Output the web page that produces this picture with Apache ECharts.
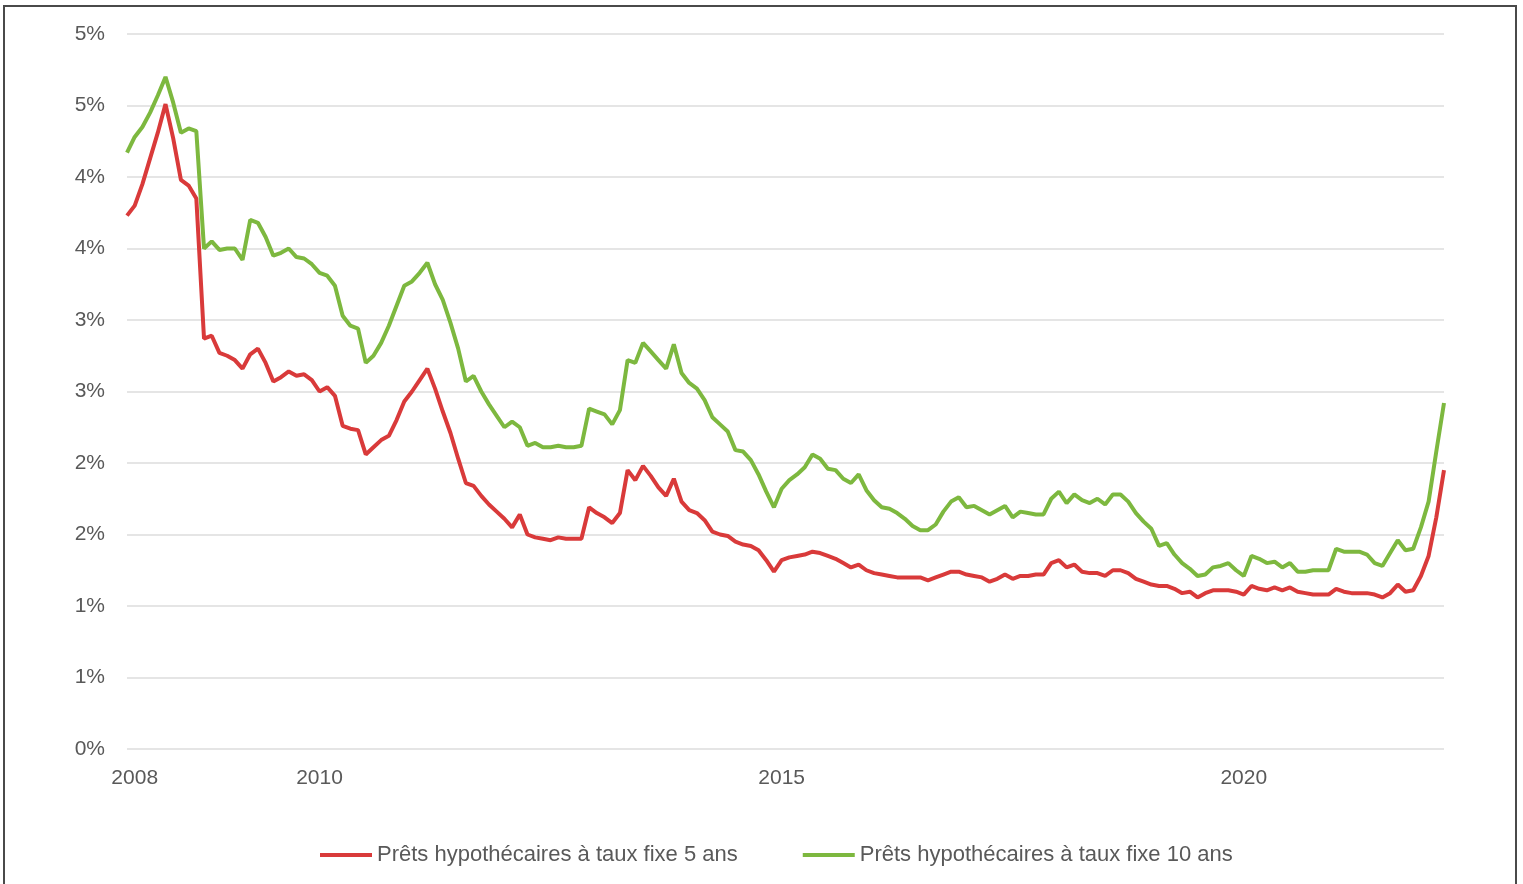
<!DOCTYPE html>
<html>
<head>
<meta charset="utf-8">
<title>Prêts hypothécaires</title>
<script src="https://cdn.jsdelivr.net/npm/echarts@6/dist/echarts.min.js"></script>
<style>
  html, body { margin: 0; padding: 0; background: #fff; }
  #main { width: 1523px; height: 884px; }
  #frame {
    position: absolute; left: 3px; top: 5px; width: 1510px; height: 900px;
    border: 2px solid #4a4a4a; border-bottom: none; pointer-events: none;
  }
</style>
</head>
<body>
<div id="main"></div>
<div id="frame"></div>
<script>
// monthly, Dec 2007 .. Mar 2022
var startYear = 2007, startMonth = 12, nbMonths = 172;
var yearLabels = ['2008', '2010', '2015', '2020'];

var taux5ans = [
    3.73, 3.80, 3.95, 4.13, 4.31, 4.51, 4.27, 3.98, 3.94, 3.85,
    2.87, 2.89, 2.77, 2.75, 2.72, 2.66, 2.76, 2.80, 2.70, 2.57,
    2.60, 2.64, 2.61, 2.62, 2.58, 2.50, 2.53, 2.47, 2.26, 2.24,
    2.23, 2.06, 2.11, 2.16, 2.19, 2.30, 2.43, 2.50, 2.58, 2.66,
    2.52, 2.36, 2.21, 2.03, 1.86, 1.84, 1.77, 1.71, 1.66, 1.61,
    1.55, 1.64, 1.50, 1.48, 1.47, 1.46, 1.48, 1.47, 1.47, 1.47,
    1.69, 1.65, 1.62, 1.58, 1.65, 1.95, 1.88, 1.98, 1.91, 1.83,
    1.77, 1.89, 1.73, 1.67, 1.65, 1.60, 1.52, 1.50, 1.49, 1.45,
    1.43, 1.42, 1.39, 1.32, 1.24, 1.32, 1.34, 1.35, 1.36, 1.38,
    1.37, 1.35, 1.33, 1.30, 1.27, 1.29, 1.25, 1.23, 1.22, 1.21,
    1.20, 1.20, 1.20, 1.20, 1.18, 1.20, 1.22, 1.24, 1.24, 1.22,
    1.21, 1.20, 1.17, 1.19, 1.22, 1.19, 1.21, 1.21, 1.22, 1.22,
    1.30, 1.32, 1.27, 1.29, 1.24, 1.23, 1.23, 1.21, 1.25, 1.25,
    1.23, 1.19, 1.17, 1.15, 1.14, 1.14, 1.12, 1.09, 1.10, 1.06,
    1.09, 1.11, 1.11, 1.11, 1.10, 1.08, 1.14, 1.12, 1.11, 1.13,
    1.11, 1.13, 1.10, 1.09, 1.08, 1.08, 1.08, 1.12, 1.10, 1.09,
    1.09, 1.09, 1.08, 1.06, 1.09, 1.15, 1.10, 1.11, 1.21, 1.35,
    1.62, 1.95
];

var taux10ans = [
    4.17, 4.28, 4.35, 4.45, 4.57, 4.70, 4.52, 4.31, 4.34, 4.32,
    3.50, 3.55, 3.49, 3.50, 3.50, 3.42, 3.70, 3.68, 3.58, 3.45,
    3.47, 3.50, 3.44, 3.43, 3.39, 3.33, 3.31, 3.24, 3.03, 2.96,
    2.94, 2.70, 2.75, 2.84, 2.96, 3.10, 3.24, 3.27, 3.33, 3.40,
    3.25, 3.14, 2.98, 2.80, 2.57, 2.61, 2.50, 2.41, 2.33, 2.25,
    2.29, 2.25, 2.12, 2.14, 2.11, 2.11, 2.12, 2.11, 2.11, 2.12,
    2.38, 2.36, 2.34, 2.27, 2.37, 2.72, 2.70, 2.84, 2.78, 2.72,
    2.66, 2.83, 2.63, 2.56, 2.52, 2.44, 2.32, 2.27, 2.22, 2.09,
    2.08, 2.02, 1.92, 1.80, 1.69, 1.82, 1.88, 1.92, 1.97, 2.06,
    2.03, 1.96, 1.95, 1.89, 1.86, 1.92, 1.81, 1.74, 1.69, 1.68,
    1.65, 1.61, 1.56, 1.53, 1.53, 1.57, 1.66, 1.73, 1.76, 1.69,
    1.70, 1.67, 1.64, 1.67, 1.70, 1.62, 1.66, 1.65, 1.64, 1.64,
    1.75, 1.80, 1.72, 1.78, 1.74, 1.72, 1.75, 1.71, 1.78, 1.78,
    1.73, 1.65, 1.59, 1.54, 1.42, 1.44, 1.36, 1.30, 1.26, 1.21,
    1.22, 1.27, 1.28, 1.30, 1.25, 1.21, 1.35, 1.33, 1.30, 1.31,
    1.27, 1.30, 1.24, 1.24, 1.25, 1.25, 1.25, 1.40, 1.38, 1.38,
    1.38, 1.36, 1.30, 1.28, 1.37, 1.46, 1.39, 1.40, 1.55, 1.73,
    2.08, 2.42
];

var mois = [];
for (var i = 0; i < nbMonths; i++) {
    var m = startMonth - 1 + i;
    var y = startYear + Math.floor(m / 12);
    var mm = (m % 12) + 1;
    mois.push(y + '-' + (mm < 10 ? '0' + mm : mm));
}

var isYearTick = function (idx) {
    var c = mois[idx];
    return c.slice(5) === '01' && yearLabels.indexOf(c.slice(0, 4)) >= 0;
};

var txt = '#595959';
var font = 'Liberation Sans, Arial, sans-serif';

var option = {
    animation: false,
    backgroundColor: '#fff',
    grid: { left: 127, right: 79, top: 34, bottom: 135 },
    legend: {
        left: 315,
        top: 839,
        icon: 'rect',
        itemWidth: 52,
        itemHeight: 4,
        itemGap: 65,
        textStyle: { color: txt, fontSize: 22, fontFamily: font },
        data: ['Prêts hypothécaires à taux fixe 5 ans', 'Prêts hypothécaires à taux fixe 10 ans']
    },
    xAxis: {
        type: 'category',
        data: mois,
        boundaryGap: false,
        axisLine: { show: false },
        axisTick: { show: false },
        splitLine: { show: false },
        axisLabel: {
            interval: function (idx) { return isYearTick(idx); },
            formatter: function (v) { return v.slice(0, 4); },
            color: txt,
            fontSize: 21,
            fontFamily: font,
            margin: 19
        }
    },
    yAxis: {
        type: 'value',
        min: 0,
        max: 5,
        interval: 0.5,
        axisLine: { show: false },
        axisTick: { show: false },
        splitLine: { lineStyle: { color: '#dcdcdc', width: 1.5 } },
        axisLabel: {
            formatter: function (v) { return Math.round(v) + '%'; },
            color: txt,
            fontSize: 21,
            fontFamily: font,
            margin: 22
        }
    },
    series: [
        {
            name: 'Prêts hypothécaires à taux fixe 5 ans',
            type: 'line',
            data: taux5ans,
            showSymbol: false,
            color: '#d93a3a',
            lineStyle: { width: 4 }
        },
        {
            name: 'Prêts hypothécaires à taux fixe 10 ans',
            type: 'line',
            data: taux10ans,
            showSymbol: false,
            color: '#7db83f',
            lineStyle: { width: 4 }
        }
    ]
};

var myChart = echarts.init(document.getElementById('main'));
myChart.setOption(option);
</script>
</body>
</html>
